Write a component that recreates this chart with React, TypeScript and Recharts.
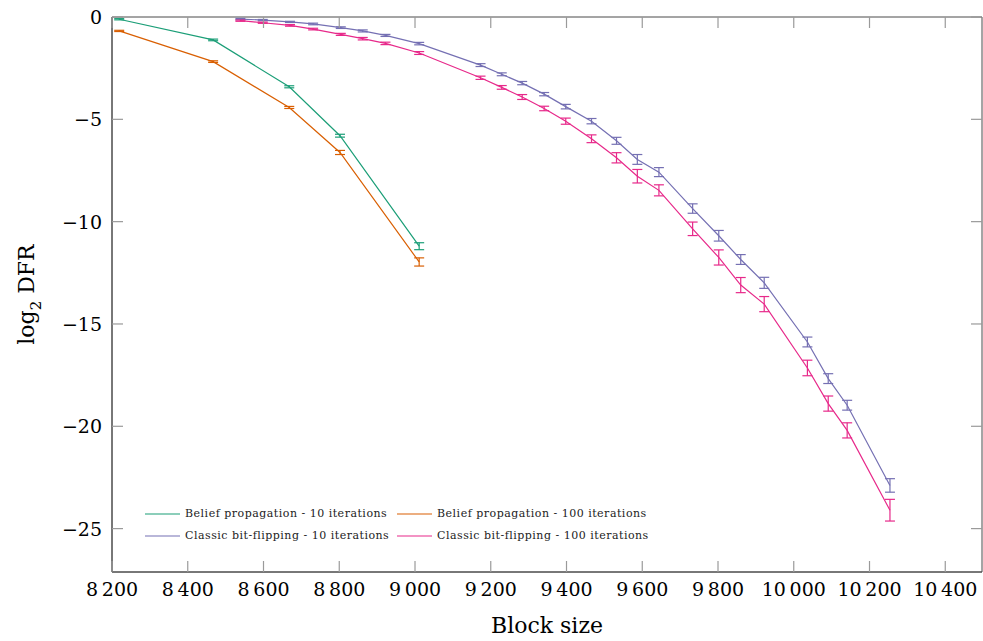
import React from 'react';
import { LineChart, Line, XAxis, YAxis, ErrorBar, ReferenceArea } from 'recharts';

// Belief propagation series
const bpBlockSizes = [8219, 8467, 8668, 8802, 9011];
const bp10Values = [-0.11, -1.12, -3.41, -5.8, -11.2];
const bp10Errors = [0.03, 0.04, 0.05, 0.07, 0.17];
const bp100Values = [-0.68, -2.18, -4.42, -6.62, -11.97];
const bp100Errors = [0.03, 0.04, 0.05, 0.1, 0.2];

// Classic bit-flipping series
const bfBlockSizes = [8539, 8598, 8670, 8731, 8804, 8862, 8922, 9011, 9173, 9229, 9283, 9341, 9398, 9466, 9532, 9587, 9644, 9733, 9802, 9860, 9922, 10036, 10091, 10141, 10254];
const bf10Values = [-0.1, -0.15, -0.24, -0.34, -0.52, -0.68, -0.9, -1.3, -2.35, -2.8, -3.23, -3.77, -4.38, -5.09, -6.05, -6.96, -7.58, -9.36, -10.69, -11.85, -12.99, -15.88, -17.67, -18.97, -22.89];
const bf10Errors = [0.03, 0.03, 0.03, 0.04, 0.04, 0.05, 0.05, 0.06, 0.07, 0.07, 0.08, 0.08, 0.11, 0.13, 0.17, 0.24, 0.22, 0.23, 0.26, 0.24, 0.27, 0.24, 0.24, 0.24, 0.33];
const bf100Values = [-0.18, -0.28, -0.41, -0.59, -0.85, -1.06, -1.29, -1.76, -2.97, -3.44, -3.91, -4.47, -5.09, -5.95, -6.88, -7.78, -8.47, -10.35, -11.75, -13.1, -14.03, -17.15, -18.89, -20.2, -24.1];
const bf100Errors = [0.03, 0.03, 0.04, 0.04, 0.05, 0.06, 0.06, 0.07, 0.08, 0.09, 0.12, 0.11, 0.15, 0.19, 0.25, 0.33, 0.27, 0.33, 0.37, 0.37, 0.37, 0.38, 0.37, 0.37, 0.53];

const xTicks = [8200, 8400, 8600, 8800, 9000, 9200, 9400, 9600, 9800, 10000, 10200, 10400];
const yTicks = [-25, -20, -15, -10, -5, 0];
const xDomain = [8200, 10497];
const yDomain = [-27.12, 0];

const seriesNames = [
  'Belief propagation - 10 iterations',
  'Belief propagation - 100 iterations',
  'Classic bit-flipping - 10 iterations',
  'Classic bit-flipping - 100 iterations',
];
const colors = ['#1b9e77', '#d95f02', '#7570b3', '#e7298a'];

const build = (xs: number[], ys: number[], es: number[]) =>
  xs.map((x, i) => ({ x, y: ys[i], e: es[i] }));

const series = [
  build(bpBlockSizes, bp10Values, bp10Errors),
  build(bpBlockSizes, bp100Values, bp100Errors),
  build(bfBlockSizes, bf10Values, bf10Errors),
  build(bfBlockSizes, bf100Values, bf100Errors),
];

const fmtX = (n: number) =>
  n >= 1000 ? `${Math.floor(n / 1000)}\u2009${String(n % 1000).padStart(3, '0')}` : String(n);
const fmtY = (n: number) => (n < 0 ? `\u2212${Math.abs(n)}` : String(n));

// layout
const W = 983;
const H = 641;
const M_TOP = 17;
const M_RIGHT = 1;
const Y_AXIS_W = 112;
const X_AXIS_H = 69;
const PLOT_LEFT = Y_AXIS_W;
const PLOT_RIGHT = W - M_RIGHT;
const PLOT_TOP = M_TOP;
const PLOT_BOTTOM = H - X_AXIS_H;
const TICK_LEN = 11;

const serif = '"DejaVu Serif", serif';
const axisColor = '#4a4a4a';
const tickColor = '#9a9a9a';

const BottomTick = (props: any) => {
  const { x, payload } = props;
  return (
    <g>
      <line x1={x} y1={PLOT_BOTTOM} x2={x} y2={PLOT_BOTTOM - TICK_LEN} stroke={tickColor} strokeWidth={1.2} />
      <line x1={x} y1={PLOT_TOP} x2={x} y2={PLOT_TOP + TICK_LEN} stroke={tickColor} strokeWidth={1.2} />
      <text x={x} y={PLOT_BOTTOM + 24} textAnchor="middle" style={{ fontFamily: serif, fontSize: 19, fill: '#000' }}>
        {fmtX(payload.value)}
      </text>
    </g>
  );
};

const LeftTick = (props: any) => {
  const { y, payload } = props;
  return (
    <g>
      <line x1={PLOT_LEFT} y1={y} x2={PLOT_LEFT + TICK_LEN} y2={y} stroke={tickColor} strokeWidth={1.2} />
      <line x1={PLOT_RIGHT} y1={y} x2={PLOT_RIGHT - TICK_LEN} y2={y} stroke={tickColor} strokeWidth={1.2} />
      <text x={PLOT_LEFT - 10} y={y + 7} textAnchor="end" style={{ fontFamily: serif, fontSize: 19, fill: '#000' }}>
        {fmtY(payload.value)}
      </text>
    </g>
  );
};

const XLabel = (props: any) => {
  const vb = props.viewBox || {};
  const cx = vb.x + vb.width / 2;
  return (
    <text x={cx} y={H - 8} textAnchor="middle" style={{ fontFamily: serif, fontSize: 22, fill: '#000' }}>
      Block size
    </text>
  );
};

const YLabel = (props: any) => {
  const vb = props.viewBox || {};
  const cx = 34;
  const cy = vb.y + vb.height / 2;
  return (
    <text
      x={cx}
      y={cy}
      transform={`rotate(-90, ${cx}, ${cy})`}
      textAnchor="middle"
      style={{ fontFamily: serif, fontSize: 22, fill: '#000' }}
    >
      log
      <tspan style={{ fontSize: 15 }} dy={7}>2</tspan>
      <tspan dy={-7}>{'\u00a0DFR'}</tspan>
    </text>
  );
};

export default function App() {
  return (
    <div style={{ position: 'absolute', left: 0, top: 0, width: W, height: H, background: '#fff' }}>
      <LineChart width={W} height={H} margin={{ top: M_TOP, right: M_RIGHT, bottom: 0, left: 0 }}>
        <XAxis
          dataKey="x"
          type="number"
          orientation="bottom"
          domain={xDomain}
          ticks={xTicks}
          allowDataOverflow
          height={X_AXIS_H}
          tickSize={0}
          tickMargin={10}
          stroke={axisColor}
          tickLine={false}
          tick={<BottomTick />}
          label={<XLabel />}
        />
        <YAxis
          type="number"
          orientation="left"
          domain={yDomain}
          ticks={yTicks}
          allowDataOverflow
          width={Y_AXIS_W}
          tickSize={0}
          tickMargin={10}
          stroke={axisColor}
          tickLine={false}
          tick={<LeftTick />}
          label={<YLabel />}
        />
        <ReferenceArea
          x1={xDomain[0]}
          x2={xDomain[1]}
          y1={yDomain[0]}
          y2={yDomain[1]}
          fill="none"
          fillOpacity={0}
          stroke={axisColor}
          strokeWidth={1}
          ifOverflow="visible"
        />
        {series.map((d, i) => (
          <Line
            key={seriesNames[i]}
            data={d}
            dataKey="y"
            name={seriesNames[i]}
            stroke={colors[i]}
            strokeWidth={1.2}
            dot={false}
            activeDot={false}
            isAnimationActive={false}
          >
            <ErrorBar dataKey="e" direction="y" width={5} stroke={colors[i]} strokeWidth={1.2} isAnimationActive={false} />
          </Line>
        ))}
      </LineChart>
      <div
        style={{
          position: 'absolute',
          left: 145,
          top: 505,
          display: 'grid',
          gridTemplateColumns: '252px 420px',
          rowGap: 5,
          fontFamily: '"DejaVu Serif", serif',
          fontSize: 11,
          color: '#222',
        }}
      >
        {[0, 1, 2, 3].map((i) => (
          <div key={i} style={{ display: 'flex', alignItems: 'center', height: 17 }}>
            <svg width={40} height={10}>
              <line x1={0} y1={5} x2={35} y2={5} stroke={colors[i]} strokeWidth={1.2} />
            </svg>
            <span style={{ letterSpacing: 0.5, whiteSpace: 'nowrap' }}>{seriesNames[i]}</span>
          </div>
        ))}
      </div>
    </div>
  );
}
